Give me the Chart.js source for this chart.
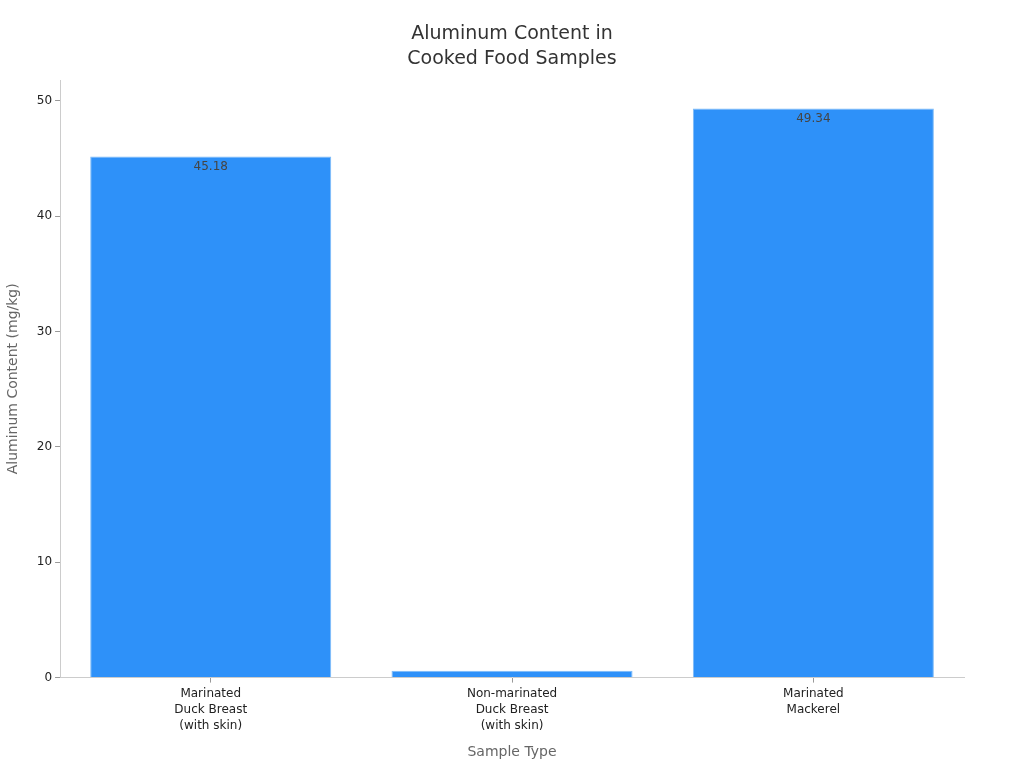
<!DOCTYPE html>
<html><head><meta charset="utf-8">
<script src="https://cdn.jsdelivr.net/npm/chart.js@4.4.0/dist/chart.umd.min.js"></script>
<style>html,body{margin:0;padding:0;background:#fff}#wrap{width:1024px;height:768px}</style>
</head><body><div id="wrap"><canvas id="c"></canvas></div>
<script>
const categories = [["Marinated","Duck Breast","(with skin)"],["Non-marinated","Duck Breast","(with skin)"],["Marinated","Mackerel"]];
const values = [45.18, 0.6, 49.34];
const labels = ["45.18", "", "49.34"];
const titleLines = ["Aluminum Content in","Cooked Food Samples"];

Chart.defaults.font.family = "DejaVu Sans";
const valueLabels = {
  id:'valueLabels',
  afterDatasetsDraw(chart){
    const ctx = chart.ctx;
    const meta = chart.getDatasetMeta(0);
    ctx.save();
    ctx.font = '12px "DejaVu Sans"';
    ctx.fillStyle = '#444';
    ctx.textAlign = 'center';
    ctx.textBaseline = 'top';
    meta.data.forEach((bar,i)=>{
      if(labels[i]) ctx.fillText(labels[i], bar.x, bar.y+4);
    });
    ctx.restore();
  }
};
const centerTitle = {
  id:'centerTitle',
  afterDraw(chart){
    const ctx = chart.ctx;
    ctx.save();
    ctx.font = '19px "DejaVu Sans"';
    ctx.fillStyle = '#333';
    ctx.textAlign = 'center';
    ctx.textBaseline = 'middle';
    titleLines.forEach((t,i)=>ctx.fillText(t, chart.width/2, 34 + i*25));
    ctx.restore();
  }
};
new Chart(document.getElementById('c'),{
  type:'bar',
  data:{labels:categories,datasets:[{data:values,backgroundColor:'#2e91f9',borderColor:'#7dbaf7',borderWidth:1,barPercentage:0.8,categoryPercentage:1.0}]},
  options:{
    responsive:true,maintainAspectRatio:false,animation:false,
    layout:{padding:{left:1,right:60,top:80,bottom:3}},
    plugins:{legend:{display:false},tooltip:{enabled:false},title:{display:false}},
    scales:{
      x:{grid:{offset:false,drawOnChartArea:false,drawTicks:true,tickLength:5,color:'#999'},border:{color:'#ccc'},
        ticks:{color:'#222',font:{size:12,lineHeight:1.35},padding:3,maxRotation:0},
        title:{display:true,text:'Sample Type',color:'#666',font:{size:14},padding:{top:7}}},
      y:{min:0,max:51.807,grid:{drawOnChartArea:false,drawTicks:true,tickLength:5,color:'#999'},border:{color:'#ccc'},
        ticks:{stepSize:10,color:'#222',font:{size:12},padding:3},
        afterBuildTicks(s){s.ticks=[0,10,20,30,40,50].map(v=>({value:v}));},
        title:{display:true,text:'Aluminum Content (mg/kg)',color:'#666',font:{size:14},padding:{bottom:12}}}
    }
  },
  plugins:[valueLabels,centerTitle]
});
</script></body></html>
